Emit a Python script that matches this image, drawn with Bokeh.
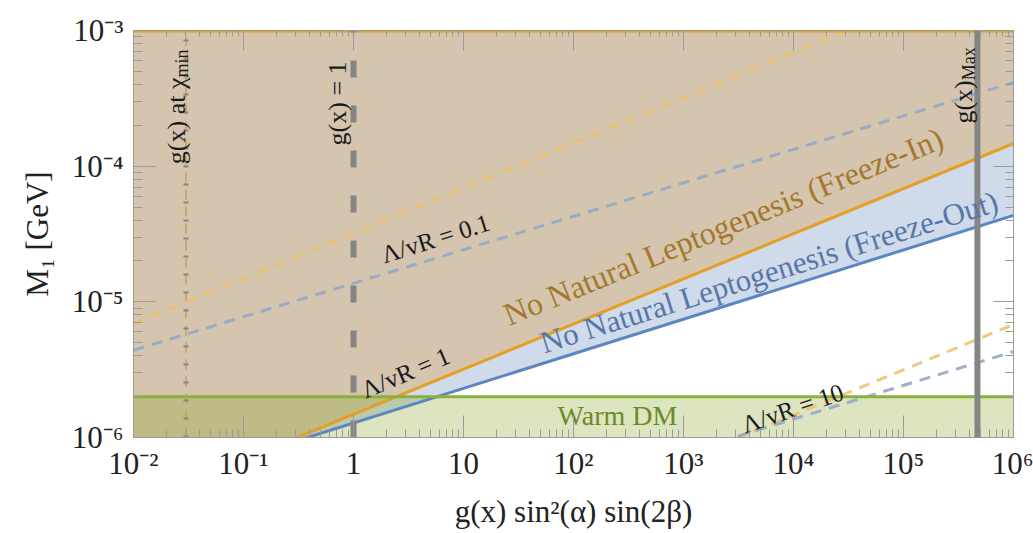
import numpy as np
from bokeh.plotting import figure
from bokeh.models import FixedTicker, CustomJSTickFormatter, LogAxis, Range1d
from bokeh.core.properties import value
from bokeh.embed import file_html
from bokeh.resources import INLINE

# ---------------- data ----------------
x_span = [1e-2, 1e6]
freeze_in_y = [3.2e-7, 1.47e-4]      # Λ/v_R = 1, freeze-in boundary (orange)
freeze_out_y = [3.95e-7, 4.34e-5]    # Λ/v_R = 1, freeze-out boundary (blue)
fi_01_y = [6.9e-6, 3.2e-3]           # Λ/v_R = 0.1 (orange dashed)
fo_01_y = [4.4e-6, 4.14e-4]          # Λ/v_R = 0.1 (blue dashed)
x_span_10 = [1e3, 1e6]
fi_10_y = [6.8e-7, 6.8e-6]           # Λ/v_R = 10 (orange dashed)
fo_10_y = [7.7e-7, 4.3e-6]           # Λ/v_R = 10 (blue dashed)
warm_dm_y = 2e-6
g_chi_min = 0.03
g_one = 1.0
g_max = 4.7e5
y_bottom, y_top = 1e-6, 1e-3

x_tick_exps = [-2, -1, 0, 1, 2, 3, 4, 5, 6]
x_tick_labels = ["10⁻²", "10⁻¹", "1", "10", "10²", "10³", "10⁴", "10⁵", "10⁶"]
y_tick_exps = [-6, -5, -4, -3]
y_tick_labels = ["10⁻⁶", "10⁻⁵", "10⁻⁴", "10⁻³"]

# ---------------- styles ----------------
FONT = "Liberation Serif"
C_OR = "#E69F25"
C_BL = "#5B86C2"
C_TAN = "#D5C5AE"
C_BLF = "#CFDAEA"
C_GR = "#8AAF3A"
C_GRAY = "#858585"

p = figure(width=1033, height=533, x_axis_type="log", y_axis_type="log",
           x_range=Range1d(1e-2, 1e6), y_range=Range1d(y_bottom, y_top),
           output_backend="svg", toolbar_location=None,
           min_border_left=133, min_border_right=20, min_border_top=30, min_border_bottom=96)
p.grid.visible = False
p.outline_line_color = "#9a9a9a"
p.background_fill_color = "white"
p.border_fill_color = "white"

x_ticks = [10.0 ** e for e in x_tick_exps]
x_minor = [k * 10.0 ** e for e in range(-2, 6) for k in range(2, 10)]
y_ticks = [10.0 ** e for e in y_tick_exps]
y_minor = [k * 10.0 ** e for e in range(-6, -3) for k in range(2, 10)]

fmt_code = """
const e = Math.round(Math.log10(tick));
const i = exps.indexOf(e);
return i >= 0 ? labels[i] : "";
"""
xfmt = CustomJSTickFormatter(args=dict(exps=x_tick_exps, labels=x_tick_labels), code=fmt_code)
yfmt = CustomJSTickFormatter(args=dict(exps=y_tick_exps, labels=y_tick_labels), code=fmt_code)
empty = CustomJSTickFormatter(code="return '';")

def style_axis(ax, major_in, minor_in):
    ax.major_tick_in = major_in
    ax.major_tick_out = 0
    ax.minor_tick_in = minor_in
    ax.minor_tick_out = 0
    ax.major_tick_line_color = "#9a9a9a"
    ax.minor_tick_line_color = "#9a9a9a"
    ax.axis_line_color = "#9a9a9a"

xa = p.xaxis[0]
xa.ticker = FixedTicker(ticks=x_ticks, minor_ticks=x_minor)
xa.formatter = xfmt
style_axis(xa, 22, 8)
xa.major_label_text_font = FONT
xa.major_label_text_font_size = "31px"
xa.major_label_text_color = "#222222"
xa.major_label_standoff = 8
xa.axis_label = "g(x) sin²(α) sin(2β)"
xa.axis_label_text_font = FONT
xa.axis_label_text_font_size = "31px"
xa.axis_label_text_font_style = "normal"
xa.axis_label_text_color = "#222222"
xa.axis_label_standoff = 10

ya = p.yaxis[0]
ya.ticker = FixedTicker(ticks=y_ticks, minor_ticks=y_minor)
ya.formatter = yfmt
style_axis(ya, 22, 9)
ya.major_label_text_font = FONT
ya.major_label_text_font_size = "31px"
ya.major_label_text_color = "#222222"
ya.major_label_standoff = 10
ya.axis_label = "M₁ [GeV]"
ya.axis_label_text_font = FONT
ya.axis_label_text_font_size = "31px"
ya.axis_label_text_font_style = "normal"
ya.axis_label_text_color = "#222222"
ya.axis_label_standoff = 14

top_ax = LogAxis(ticker=FixedTicker(ticks=x_ticks, minor_ticks=x_minor), formatter=empty,
                 major_label_text_font_size="1px", major_label_standoff=0)
style_axis(top_ax, 20, 6)
p.add_layout(top_ax, "above")
right_ax = LogAxis(ticker=FixedTicker(ticks=y_ticks, minor_ticks=y_minor), formatter=empty,
                   major_label_text_font_size="1px", major_label_standoff=0)
style_axis(right_ax, 20, 8)
p.add_layout(right_ax, "right")

# ---------------- regions ----------------
p.varea(x=x_span, y1=freeze_out_y, y2=[y_top, y_top], fill_color=C_BLF)
p.varea(x=x_span, y1=freeze_in_y, y2=[y_top, y_top], fill_color=C_TAN)
p.varea(x=x_span, y1=[y_bottom, y_bottom], y2=[warm_dm_y, warm_dm_y],
        fill_color="#8AA52D", fill_alpha=0.3)

# ---------------- dashed benchmark lines ----------------
p.line(x_span, fi_01_y, line_color="#EDBE6A", line_width=3, line_dash="11 8", line_alpha=0.85)
p.line(x_span, fo_01_y, line_color="#93A9C8", line_width=3, line_dash="11 8", line_alpha=0.9)
p.line(x_span_10, fi_10_y, line_color="#EDBE6A", line_width=3, line_dash="11 8", line_alpha=0.85)
p.line(x_span_10, fo_10_y, line_color="#93A9C8", line_width=3, line_dash="11 8", line_alpha=0.9)

# ---------------- boundaries ----------------
p.line(x_span, freeze_out_y, line_color=C_BL, line_width=3)
p.line(x_span, freeze_in_y, line_color=C_OR, line_width=3)
p.line(x_span, [y_top, y_top], line_color=C_OR, line_width=4)
p.line(x_span, [warm_dm_y, warm_dm_y], line_color=C_GR, line_width=3)

# ---------------- vertical g(x) lines ----------------
p.line([g_chi_min, g_chi_min], [y_bottom, y_top], line_color="#C49F62", line_width=2,
       line_dash="10 7", line_alpha=0.8)
p.line([g_chi_min, g_chi_min], [y_bottom, y_top], line_color=C_GRAY, line_width=5, line_dash="2 16")
p.line([g_one, g_one], [y_bottom, y_top], line_color=C_GRAY, line_width=6, line_dash="17 28")
p.line([g_max, g_max], [y_bottom, y_top], line_color=C_GRAY, line_width=6)

# ---------------- labels ----------------
def label(x, y, txt, size, color, angle_deg=0.0, align="center", x_off=0, y_off=0):
    p.text(x=[x], y=[y], text=[txt], angle=np.deg2rad(angle_deg),
           text_font=value(FONT), text_font_size=size, text_color=color,
           text_align=align, text_baseline="middle", x_offset=x_off, y_offset=y_off)

label(2300, 3.6e-5, "No Natural Leptogenesis (Freeze-In)", "32px", "#A4782C", 22.3)
label(6000, 1.66e-5, "No Natural Leptogenesis (Freeze-Out)", "31px", "#5876A6", 17.4)
label(251, 1.46e-6, "Warm DM", "28px", "#6B8A27")
label(5.56, 2.93e-5, "Λ/vR = 0.1", "25px", "#1a1a1a", 17.5)
label(2.97, 3.0e-6, "Λ/vR = 1", "25px", "#1a1a1a", 23.0)
label(9800, 1.64e-6, "Λ/vR = 10", "25px", "#1a1a1a", 19.0)

label(0.0245, 4.5e-4, "g(x) at χ", "26px", "#1a1a1a", 90, align="right")
label(0.0245, 4.5e-4, "min", "18px", "#1a1a1a", 90, align="left", x_off=6)
label(0.72, 2.9e-4, "g(x) = 1", "26px", "#1a1a1a", 90)
label(3.5e5, 4.3e-4, "g(x)", "26px", "#1a1a1a", 90, align="right")
label(3.5e5, 4.3e-4, "Max", "18px", "#1a1a1a", 90, align="left", x_off=6)

open("out.html", "w").write(file_html(p, INLINE))
